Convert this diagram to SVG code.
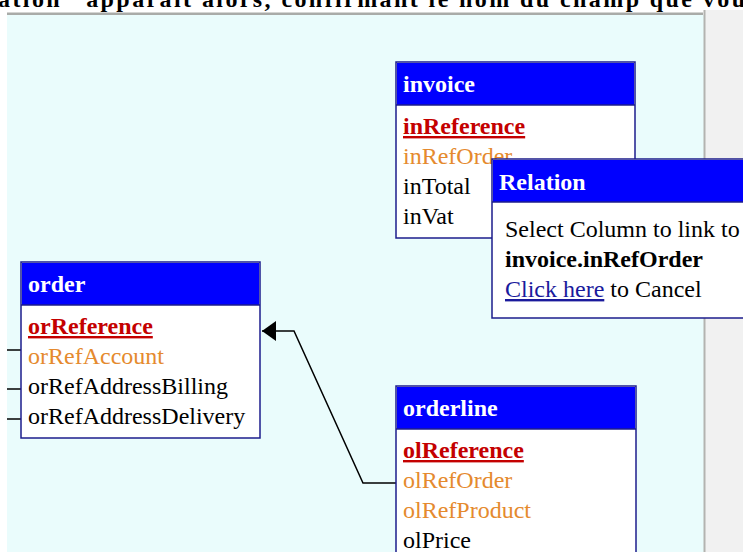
<svg xmlns="http://www.w3.org/2000/svg" width="743" height="552" viewBox="0 0 743 552">
  <defs>
    <style>
      text { font-family: "Liberation Serif", "Times New Roman", serif; font-size: 24px; }
      .hdr { fill: #ffffff; font-weight: bold; }
      .pk { fill: #c40000; font-weight: bold; text-decoration: underline; }
      .fk { fill: #e58a2e; }
      .col { fill: #000000; }
      .box { fill: #ffffff; stroke: #1c1c8c; stroke-width: 1.5; }
      .head { fill: #0000ff; }
      .conn { fill: none; stroke: #000000; stroke-width: 1.5; }
    </style>
    <marker id="arrow" markerWidth="15" markerHeight="22" refX="14" refY="11" orient="auto" markerUnits="userSpaceOnUse">
      <path d="M0,1 L14,11 L0,21 Z" fill="#000000"/>
    </marker>
  </defs>

  <!-- page background -->
  <rect x="0" y="0" width="743" height="552" fill="#ffffff"/>
  <text x="-2" y="7" font-size="23" font-weight="bold" textLength="747" fill="#000">ation" apparaît alors, confirmant le nom du champ que vou</text>
  <rect x="705" y="10" width="38" height="542" fill="#f1f1f1"/>
  <!-- canvas panel -->
  <rect x="7" y="15" width="697" height="537" fill="#eafcfc"/>
  <rect x="7" y="12.5" width="696" height="2.5" fill="#a9aba8"/>
  <rect x="703.5" y="10" width="2" height="542" fill="#b3b3b0"/>

  <!-- connectors -->
  <g id="connectors">
    <polyline class="conn" points="396,483 363,483 294,331 262,331" marker-end="url(#arrow)"/>
    <line class="conn" x1="7" y1="350" x2="21" y2="350"/>
    <line class="conn" x1="7" y1="389" x2="21" y2="389"/>
    <line class="conn" x1="7" y1="419" x2="21" y2="419"/>
  </g>

  <!-- order -->
  <g id="order">
    <rect class="box" x="21" y="262" width="239" height="176"/>
    <rect class="head" x="22" y="263" width="237" height="42"/>
    <line x1="21" y1="305" x2="260" y2="305" stroke="#1c1c8c" stroke-width="1.5"/>
    <text class="hdr" x="28" y="292">order</text>
    <text class="pk" x="28" y="334">orReference</text>
    <text class="fk" x="28" y="364">orRefAccount</text>
    <text class="col" x="28" y="394">orRefAddressBilling</text>
    <text class="col" x="28" y="424">orRefAddressDelivery</text>
  </g>

  <!-- invoice -->
  <g id="invoice">
    <rect class="box" x="396" y="62" width="239" height="176"/>
    <rect class="head" x="397" y="63" width="237" height="42"/>
    <line x1="396" y1="105" x2="635" y2="105" stroke="#1c1c8c" stroke-width="1.5"/>
    <text class="hdr" x="403" y="92">invoice</text>
    <text class="pk" x="403" y="134">inReference</text>
    <text class="fk" x="403" y="164">inRefOrder</text>
    <text class="col" x="403" y="194">inTotal</text>
    <text class="col" x="403" y="224">inVat</text>
  </g>

  <!-- orderline -->
  <g id="orderline">
    <rect class="box" x="396" y="386" width="240" height="180"/>
    <rect class="head" x="397" y="387" width="238" height="42"/>
    <line x1="396" y1="429" x2="636" y2="429" stroke="#1c1c8c" stroke-width="1.5"/>
    <text class="hdr" x="403" y="416">orderline</text>
    <text class="pk" x="403" y="458">olReference</text>
    <text class="fk" x="403" y="488">olRefOrder</text>
    <text class="fk" x="403" y="518">olRefProduct</text>
    <text class="col" x="403" y="548">olPrice</text>
  </g>

  <!-- Relation popup -->
  <g id="relation">
    <rect class="box" x="492" y="159" width="260" height="159"/>
    <rect class="head" x="493" y="160" width="252" height="42"/>
    <line x1="492" y1="202" x2="743" y2="202" stroke="#1c1c8c" stroke-width="1.5"/>
    <text class="hdr" x="499" y="190">Relation</text>
    <text class="col" x="505" y="237">Select Column to link to</text>
    <text class="col" x="505" y="267" font-weight="bold">invoice.inRefOrder</text>
    <text x="505" y="297"><tspan fill="#1a1a9c" text-decoration="underline">Click here</tspan><tspan fill="#000"> to Cancel</tspan></text>
  </g>
</svg>
